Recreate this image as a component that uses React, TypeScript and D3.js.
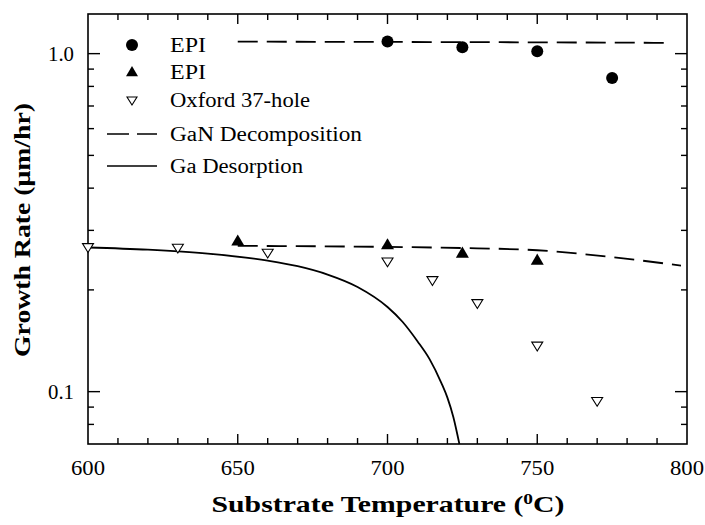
import * as d3 from "d3";
import { useEffect, useRef } from "react";

// EPI (filled circles), high-flux data
const epiCircleTemp = [700, 725, 750, 775];
const epiCircleRate = [1.087, 1.044, 1.016, 0.847];

// EPI (filled triangles)
const epiTriTemp = [650, 700, 725, 750];
const epiTriRate = [0.279, 0.272, 0.257, 0.245];

// Oxford 37-hole (open down triangles)
const oxfordTemp = [600, 630, 660, 700, 715, 730, 750, 770];
const oxfordRate = [0.268, 0.267, 0.258, 0.243, 0.214, 0.183, 0.137, 0.094];

// GaN decomposition model curves (dashed)
const decompHighTemp = [650, 700, 750, 795];
const decompHighRate = [1.085, 1.083, 1.08, 1.076];
const decompLowTemp = [650, 700, 725, 750, 775, 798];
const decompLowRate = [0.27, 0.268, 0.266, 0.262, 0.25, 0.236];

// Ga desorption model curve (solid)
const desorbTemp = [600, 620, 640, 660, 670, 680, 690, 700, 705, 710, 714, 718, 720, 722, 724];
const desorbRate = [0.267, 0.263, 0.256, 0.244, 0.235, 0.222, 0.204, 0.178, 0.161, 0.141, 0.125, 0.106, 0.096, 0.084, 0.07];

const xTickLabels = ["600", "650", "700", "750", "800"];
const yTickLabels = ["0.1", "1.0"];

const legendItems = ["EPI", "EPI", "Oxford 37-hole", "GaN Decomposition", "Ga Desorption"];
const legendWidths = [36, 36, 140, 192, 133];

const App = () => {
  const svgRef = useRef<SVGSVGElement | null>(null);

  useEffect(() => {
    const svg = d3.select(svgRef.current);
    svg.selectAll("*").remove();
    const left = 88, right = 687, top = 14, bottom = 444;
    const font = "Liberation Serif";

    const x = d3.scaleLinear().domain([600, 800]).range([left, right]);
    const y = d3.scaleLog().domain([0.07, 1.31]).range([bottom, top]);

    const g = svg.append("g");

    // frame
    g.append("rect")
      .attr("x", left).attr("y", top)
      .attr("width", right - left).attr("height", bottom - top)
      .attr("fill", "none").attr("stroke", "#000").attr("stroke-width", 1.6);

    // x ticks (every 10, longer at 50)
    d3.range(610, 800, 10).forEach((t) => {
      const len = t % 50 === 0 ? 10 : 6;
      g.append("line").attr("x1", x(t)).attr("x2", x(t))
        .attr("y1", bottom).attr("y2", bottom - len)
        .attr("stroke", "#000").attr("stroke-width", 1.4);
      g.append("line").attr("x1", x(t)).attr("x2", x(t))
        .attr("y1", top).attr("y2", top + len)
        .attr("stroke", "#000").attr("stroke-width", 1.4);
    });

    // y ticks (log)
    const yTicks = [0.08, 0.09, 0.1, 0.2, 0.3, 0.4, 0.5, 0.6, 0.7, 0.8, 0.9, 1.0];
    yTicks.forEach((t) => {
      const major = Math.abs(t - 0.1) < 1e-9 || Math.abs(t - 1) < 1e-9;
      const len = major ? 12 : 6;
      g.append("line").attr("x1", left).attr("x2", left + len)
        .attr("y1", y(t)).attr("y2", y(t))
        .attr("stroke", "#000").attr("stroke-width", 1.4);
      g.append("line").attr("x1", right).attr("x2", right - len)
        .attr("y1", y(t)).attr("y2", y(t))
        .attr("stroke", "#000").attr("stroke-width", 1.4);
    });

    // tick labels
    xTickLabels.forEach((lab) => {
      g.append("text").attr("x", x(+lab)).attr("y", 475)
        .attr("text-anchor", "middle").attr("font-family", font)
        .attr("font-size", 20).attr("textLength", 34)
        .attr("lengthAdjust", "spacingAndGlyphs").text(lab);
    });
    yTickLabels.forEach((lab) => {
      g.append("text").attr("x", 74).attr("y", y(+lab) + 7)
        .attr("text-anchor", "end").attr("font-family", font)
        .attr("font-size", 20).attr("textLength", 26)
        .attr("lengthAdjust", "spacingAndGlyphs").text(lab);
    });

    // axis titles
    const xt = g.append("text").attr("x", 388).attr("y", 512)
      .attr("text-anchor", "middle").attr("font-family", font)
      .attr("font-size", 23).attr("font-weight", "bold")
      .attr("textLength", 353).attr("lengthAdjust", "spacingAndGlyphs");
    xt.append("tspan").text("Substrate Temperature (");
    xt.append("tspan").attr("dy", -8).attr("font-size", 15).text("0");
    xt.append("tspan").attr("dy", 8).text("C)");

    g.append("text")
      .attr("transform", `translate(30, 230) rotate(-90)`)
      .attr("text-anchor", "middle").attr("font-family", font)
      .attr("font-size", 23).attr("font-weight", "bold")
      .attr("textLength", 254).attr("lengthAdjust", "spacingAndGlyphs")
      .text("Growth Rate (μm/hr)");

    // curves
    const line = d3.line<[number, number]>()
      .x((d) => x(d[0])).y((d) => y(d[1]))
      .curve(d3.curveMonotoneX);

    const hi = decompHighTemp.map((t, i) => [t, decompHighRate[i]] as [number, number]);
    const lo = decompLowTemp.map((t, i) => [t, decompLowRate[i]] as [number, number]);
    const de = desorbTemp.map((t, i) => [t, desorbRate[i]] as [number, number]);

    [hi, lo].forEach((data) => {
      g.append("path").datum(data).attr("d", line)
        .attr("fill", "none").attr("stroke", "#000")
        .attr("stroke-width", 1.8).attr("stroke-dasharray", "20,9");
    });
    g.append("path").datum(de).attr("d", line)
      .attr("fill", "none").attr("stroke", "#000").attr("stroke-width", 1.8);

    // markers
    epiCircleTemp.forEach((t, i) => {
      g.append("circle").attr("cx", x(t)).attr("cy", y(epiCircleRate[i]))
        .attr("r", 6).attr("fill", "#000");
    });
    const upTri = (cx: number, cy: number, s: number) =>
      `M${cx},${cy - s}L${cx + s},${cy + s * 0.7}L${cx - s},${cy + s * 0.7}Z`;
    const downTri = (cx: number, cy: number, s: number) =>
      `M${cx - s},${cy - s * 0.6}L${cx + s},${cy - s * 0.6}L${cx},${cy + s}Z`;
    epiTriTemp.forEach((t, i) => {
      g.append("path").attr("d", upTri(x(t), y(epiTriRate[i]), 6.5)).attr("fill", "#000");
    });
    oxfordTemp.forEach((t, i) => {
      g.append("path").attr("d", downTri(x(t), y(oxfordRate[i]), 5.5))
        .attr("fill", "#fff").attr("stroke", "#000").attr("stroke-width", 1.1);
    });

    // legend
    const rows = [45, 72, 100, 134, 166];
    const lx = 170;
    g.append("circle").attr("cx", 132).attr("cy", rows[0]).attr("r", 6).attr("fill", "#000");
    g.append("path").attr("d", upTri(132, rows[1], 6)).attr("fill", "#000");
    g.append("path").attr("d", downTri(132, rows[2], 5)).attr("fill", "#fff")
      .attr("stroke", "#000").attr("stroke-width", 1.1);
    g.append("line").attr("x1", 107).attr("x2", 157).attr("y1", rows[3]).attr("y2", rows[3])
      .attr("stroke", "#000").attr("stroke-width", 1.6).attr("stroke-dasharray", "22,8");
    g.append("line").attr("x1", 107).attr("x2", 157).attr("y1", rows[4]).attr("y2", rows[4])
      .attr("stroke", "#000").attr("stroke-width", 1.6);
    legendItems.forEach((lab, i) => {
      g.append("text").attr("x", lx).attr("y", rows[i] + 7)
        .attr("font-family", font).attr("font-size", 20)
        .attr("textLength", legendWidths[i]).attr("lengthAdjust", "spacingAndGlyphs")
        .text(lab);
    });
  }, []);

  return (
    <svg
      ref={svgRef}
      width={705}
      height={525}
      style={{ position: "absolute", left: 0, top: 0, background: "#fff" }}
    />
  );
};

export default App;
